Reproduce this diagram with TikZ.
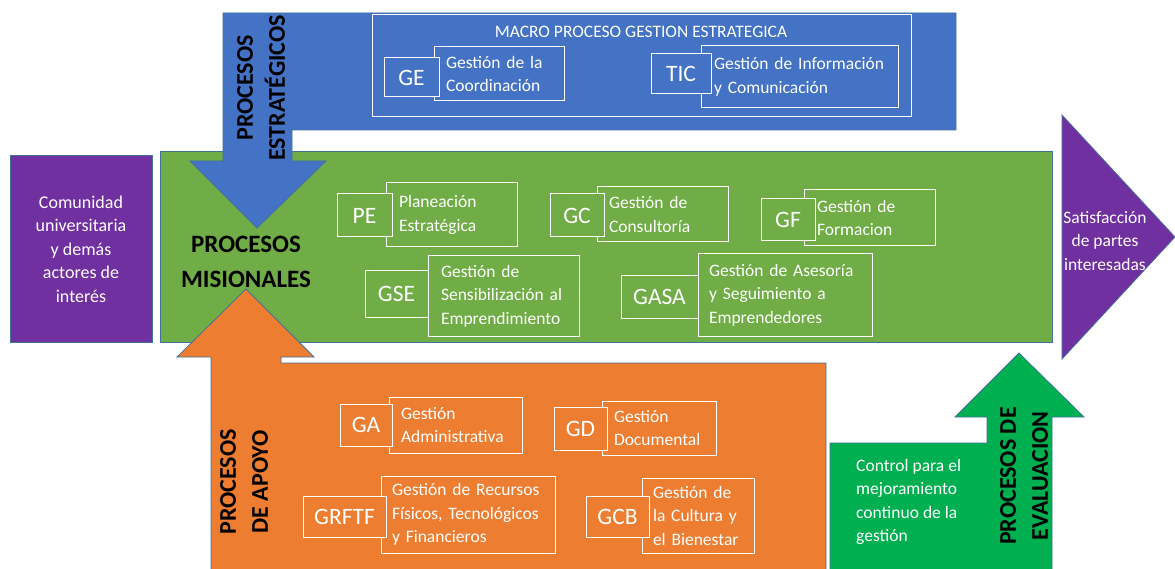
\documentclass[tikz,border=0pt]{standalone}
\usepackage{fontspec}
\setmainfont{Carlito}
\hyphenpenalty=10000
\exhyphenpenalty=10000
\definecolor{cblue}{HTML}{4472C4}
\definecolor{cgreen}{HTML}{70AD47}
\definecolor{corange}{HTML}{ED7D31}
\definecolor{cpurple}{HTML}{7030A0}
\definecolor{cgreentwo}{HTML}{00B050}
\definecolor{edgec}{HTML}{41719C}
\begin{document}
\begin{tikzpicture}[x=1pt,y=-1pt,
  edge/.style={draw=edgec, line width=0.75pt},
  sbox/.style={draw=white, line width=1pt, inner sep=0pt, outer sep=0pt, anchor=north west, text=white, font=\fontsize{23.5}{26}\selectfont},
  tbox/.style={draw=white, line width=1pt, inner ysep=0pt, outer sep=0pt, anchor=north west, align=left, text=white, font=\fontsize{17.5}{23.5}\selectfont},
  plabel/.style={text=black, align=center, font=\bfseries\fontsize{24}{32}\selectfont, inner sep=0pt},
  wtext/.style={text=white, font=\fontsize{17.5}{23.5}\selectfont, inner sep=0pt}
]
\useasboundingbox (0,0) rectangle (1175,569);
\clip (0,0) rectangle (1175,569);

% main shapes
\draw[edge, fill=cpurple] (10,155) rectangle (152,342);
\draw[edge, fill=cgreen] (160,151) rectangle (1052,342);
\draw[edge, fill=cblue] (223,13) -- (956,13) -- (956,130) -- (292,130) -- (292,161) -- (326,161) -- (257,228) -- (190,161) -- (223,161) -- cycle;
\draw[edge, fill=corange] (211,575) -- (211,357) -- (177,357) -- (246,289) -- (314,357) -- (281,357) -- (281,363) -- (826,363) -- (826,575) -- cycle;
\draw[edge, fill=cgreentwo] (830,575) -- (830,443) -- (987,443) -- (987,417) -- (955,417) -- (1019,353) -- (1084,417) -- (1052,417) -- (1052,575) -- cycle;
\draw[edge, fill=cpurple] (1062,115) -- (1175,237) -- (1062,359) -- cycle;

% strategic
\draw[draw=white, line width=1pt] (372,15) rectangle (911,117);
\node[wtext] (macro) at (641,32) {MACRO PROCESO GESTION ESTRATEGICA};
\node[tbox, minimum height=54pt, text width=106pt, inner xsep=12pt] (get) at (434,47) {Gestión de la\\Coordinación};
\node[sbox, fill=cblue, minimum width=55pt, minimum height=39pt] (ge) at (384,58) {GE};
\node[tbox, minimum height=62pt, text width=171pt, inner xsep=13pt] (tict) at (701,46) {Gestión de Información\\y Comunicación};
\node[sbox, fill=cblue, minimum width=60pt, minimum height=40pt] (tic) at (651,54) {TIC};

% misionales
\node[tbox, minimum height=64pt, text width=105pt, inner xsep=13pt] (pet) at (386,183) {Planeación\\Estratégica};
\node[sbox, fill=cgreen, minimum width=55pt, minimum height=43pt] (pe) at (337,194) {PE};
\node[tbox, minimum height=55pt, text width=107pt, inner xsep=12pt] (gct) at (597,187) {Gestión de\\Consultoría};
\node[sbox, fill=cgreen, minimum width=54pt, minimum height=43pt] (gc) at (550,194) {GC};
\node[tbox, minimum height=56pt, text width=105pt, inner xsep=13pt] (gft) at (804,190) {Gestión de\\Formacion};
\node[sbox, fill=cgreen, minimum width=54pt, minimum height=42pt] (gf) at (761,199) {GF};
\node[tbox, minimum height=80pt, text width=125pt, inner xsep=13pt] (gset) at (428,256) {Gestión de\\Sensibilización al\\Emprendimiento};
\node[sbox, fill=cgreen, minimum width=63pt, minimum height=46pt] (gse) at (365,271) {GSE};
\node[tbox, minimum height=82pt, text width=152pt, inner xsep=11pt] (gasat) at (698,254) {Gestión de Asesoría\\y Seguimiento a\\Emprendedores};
\node[sbox, fill=cgreen, minimum width=77pt, minimum height=42pt] (gasa) at (621,276) {GASA};

% apoyo
\node[tbox, minimum height=56pt, text width=109pt, inner xsep=12pt] (gat) at (389,397) {Gestión\\Administrativa};
\node[sbox, fill=corange, minimum width=52pt, minimum height=42pt] (ga) at (340,404) {GA};
\node[tbox, minimum height=54pt, text width=90pt, inner xsep=12pt] (gdt) at (602,401) {Gestión\\Documental};
\node[sbox, fill=corange, minimum width=53pt, minimum height=43pt] (gd) at (554,407) {GD};
\node[tbox, minimum height=77pt, text width=152pt, inner xsep=11pt] (grftft) at (381,476) {Gestión de Recursos\\Físicos, Tecnológicos\\y Financieros};
\node[sbox, fill=corange, minimum width=83pt, minimum height=41pt] (grftf) at (303,496) {GRFTF};
\node[tbox, minimum height=75pt, text width=90pt, inner xsep=11pt] (gcbt) at (642,478) {Gestión de\\la Cultura y\\el Bienestar};
\node[sbox, fill=corange, minimum width=63pt, minimum height=41pt] (gcb) at (586,496) {GCB};

% other texts
\node[wtext, align=center, font=\fontsize{18}{23.5}\selectfont] (com) at (81,249) {Comunidad\\universitaria\\y demás\\actores de\\interés};
\node[wtext, align=center] (sat) at (1105,241) {Satisfacción\\de partes\\interesadas};
\node[wtext, align=left, anchor=west] (ctrl) at (856,502) {Control para el\\mejoramiento\\continuo de la\\gestión};

\node[plabel, rotate=90] (pest) at (261,88) {PROCESOS\\ESTRATÉGICOS};
\node[plabel, font=\bfseries\fontsize{25}{35}\selectfont] (pmis) at (246,262) {PROCESOS\\MISIONALES};
\node[plabel, rotate=90] (papo) at (244,482) {PROCESOS\\DE APOYO};
\node[plabel, rotate=90] (peva) at (1024,476) {PROCESOS DE\\EVALUACION};
\end{tikzpicture}
\end{document}
